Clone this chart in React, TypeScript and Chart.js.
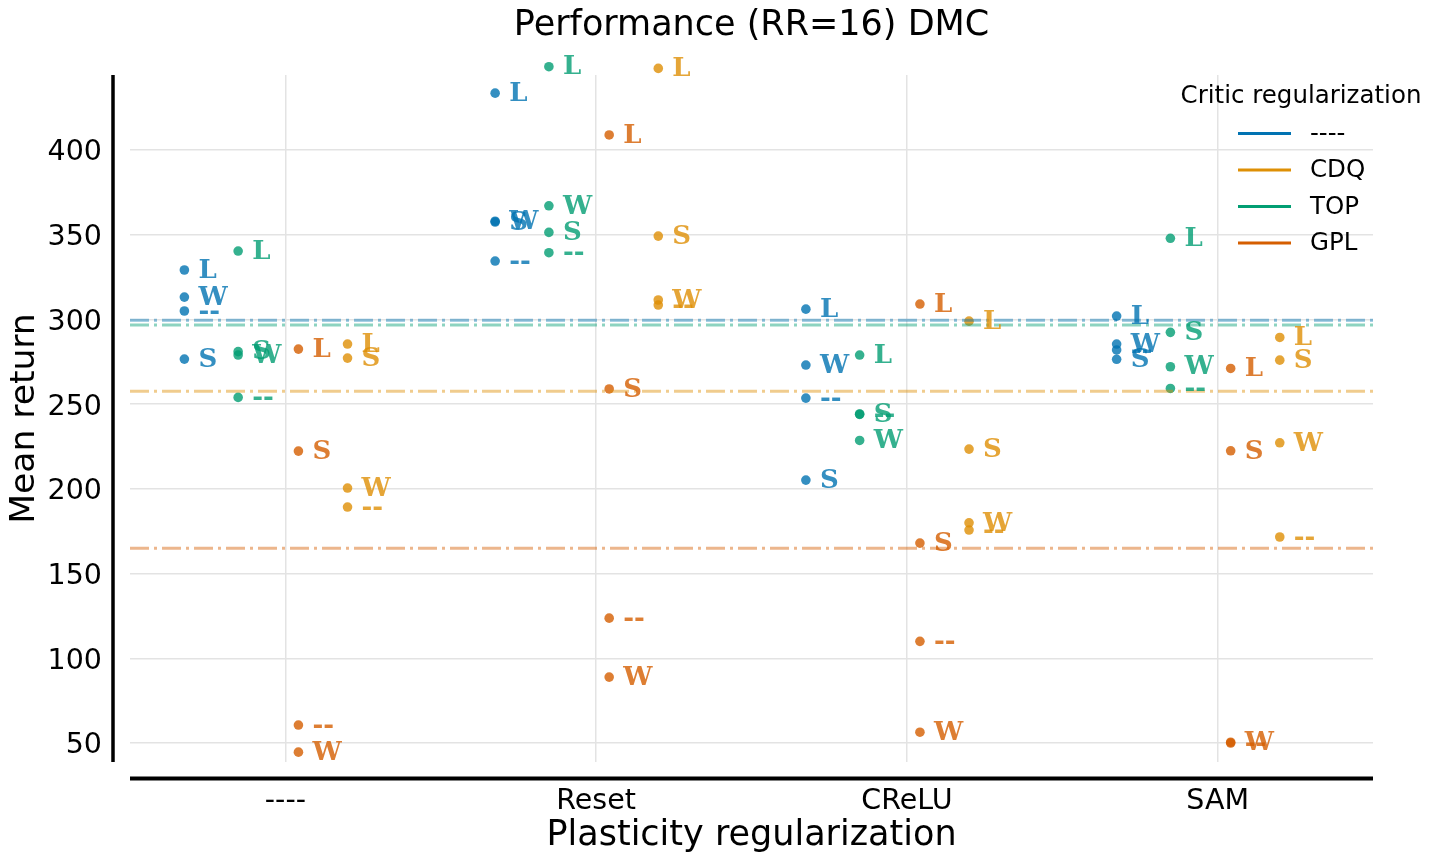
import { useEffect, useRef } from "react"
import { Chart, registerables } from "chart.js"

Chart.register(...registerables)

// plasticity regularization groups on the x axis
const plasticity = ["----", "Reset", "CReLU", "SAM"]
// critic regularization series
const critics = ["----", "CDQ", "TOP", "GPL"]
const criticColors = ["1, 115, 178", "222, 143, 5", "2, 158, 115", "213, 94, 0"]
// horizontal shift of each critic inside a group
const dodge = [-0.325, 0.2, -0.152, 0.042]
// text drawn next to every point
const variants = ["--", "S", "W", "L"]

// rows: plasticity group, columns: variants (--, S, W, L)
const noCritic = [
  [305, 276.6, 313.2, 329.2],
  [334.5, 357.5, 358, 433.6],
  [253.6, 205.2, 273.1, 306.1],
  [282, 276.5, 285.5, 302],
]
const cdq = [
  [189.3, 277.2, 200.5, 285.5],
  [308.5, 349.2, 311.5, 448.2],
  [175.7, 223.5, 180, 299],
  [171.6, 276, 227.2, 289.4],
]
const topReg = [
  [254, 281, 279, 340.4],
  [339.4, 351.4, 367.1, 449.2],
  [244, 244.2, 228.6, 279],
  [259.3, 292.4, 272.1, 347.9],
]
const gpl = [
  [60.6, 222.3, 44.6, 282.5],
  [123.7, 259, 88.9, 408.9],
  [110, 168, 56.4, 309.1],
  [50, 222.5, 50.5, 271.1],
]
const seriesValues = [noCritic, cdq, topReg, gpl]

// reference level per critic (dash-dot lines)
const criticMeans = [299.6, 257.7, 296.7, 165.0]

const yTicks = [50, 100, 150, 200, 250, 300, 350, 400]
const yMin = 38.8
const yMax = 444.3

const sansFont = "'DejaVu Sans', sans-serif"
const dotRadius = 4.8

const pointLabels = {
  id: "pointLabels",
  afterDatasetsDraw(chart: any) {
    const ctx = chart.ctx
    const area = chart.chartArea
    ctx.save()
    ctx.font = "bold 26px 'DejaVu Serif', serif"
    ctx.textAlign = "left"
    ctx.textBaseline = "middle"
    chart.data.datasets.forEach((ds: any, i: number) => {
      if (ds.type === "line") return
      const meta = chart.getDatasetMeta(i)
      ctx.fillStyle = `rgba(${ds.rgb}, 0.8)`
      meta.data.forEach((el: any, j: number) => {
        // chart.js skips points beyond the area; matplotlib drew them unclipped
        const outside =
          el.y < area.top - dotRadius ||
          el.y > area.bottom + dotRadius ||
          el.x < area.left - dotRadius ||
          el.x > area.right + dotRadius
        if (outside) {
          ctx.beginPath()
          ctx.arc(el.x, el.y, dotRadius, 0, Math.PI * 2)
          ctx.fill()
        }
        ctx.fillText(ds.data[j].tag, el.x + 14, el.y + 1)
      })
    })
    ctx.restore()
  },
}

const spinesAndLegend = {
  id: "spinesAndLegend",
  afterDraw(chart: any) {
    const ctx = chart.ctx
    const { left, right, top, bottom } = chart.chartArea
    ctx.save()
    ctx.strokeStyle = "#000"
    ctx.lineWidth = 3.5
    ctx.beginPath()
    ctx.moveTo(left - 17, top)
    ctx.lineTo(left - 17, bottom)
    ctx.stroke()
    ctx.lineWidth = 4
    ctx.beginPath()
    ctx.moveTo(left, bottom + 16.5)
    ctx.lineTo(right, bottom + 16.5)
    ctx.stroke()

    // legend
    ctx.font = `24.5px ${sansFont}`
    ctx.fillStyle = "#000"
    ctx.textAlign = "center"
    ctx.textBaseline = "middle"
    ctx.fillText("Critic regularization", 1301, 97)
    ctx.textAlign = "left"
    critics.forEach((name, i) => {
      const y = 133.5 + i * 36.5
      ctx.strokeStyle = `rgb(${criticColors[i]})`
      ctx.lineWidth = 3
      ctx.beginPath()
      ctx.moveTo(1238, y)
      ctx.lineTo(1291, y)
      ctx.stroke()
      ctx.fillText(name, 1310, y + 1)
    })
    ctx.restore()
  },
}

export default function App() {
  const canvasRef = useRef<HTMLCanvasElement>(null)
  const chartRef = useRef<Chart | null>(null)

  useEffect(() => {
    if (!canvasRef.current) return
    if (chartRef.current) chartRef.current.destroy()

    const lineSets = criticMeans.map((m, ci) => ({
      type: "line" as const,
      label: critics[ci] + " mean",
      data: [
        { x: -0.5, y: m },
        { x: 3.5, y: m },
      ],
      borderColor: `rgba(${criticColors[ci]}, 0.45)`,
      borderWidth: 3,
      borderDash: [19, 5, 3, 5],
      pointRadius: 0,
      fill: false,
    }))

    const pointSets = seriesValues.map((rows, ci) => {
      const data: any[] = []
      rows.forEach((row, pi) => {
        row.forEach((v, vi) => {
          data.push({ x: pi + dodge[ci], y: v, tag: variants[vi] })
        })
      })
      return {
        type: "scatter" as const,
        label: critics[ci],
        rgb: criticColors[ci],
        data,
        backgroundColor: `rgba(${criticColors[ci]}, 0.8)`,
        borderWidth: 0,
        pointRadius: dotRadius,
        clip: false,
      }
    })

    chartRef.current = new Chart(canvasRef.current, {
      type: "scatter",
      data: { datasets: [...lineSets, ...pointSets] as any },
      options: {
        responsive: false,
        animation: false,
        layout: { padding: { left: 0, right: 67, top: 0, bottom: 0 } },
        plugins: {
          legend: { display: false },
          tooltip: { enabled: false },
          title: {
            display: true,
            fullSize: false,
            text: "Performance (RR=16) DMC",
            color: "#000",
            font: { family: sansFont, size: 35, weight: "normal" },
            padding: { top: 4.6, bottom: 28.4 },
          },
        },
        scales: {
          x: {
            type: "linear",
            min: -0.5,
            max: 3.5,
            afterBuildTicks: (s: any) => {
              s.ticks = plasticity.map((_, i) => ({ value: i }))
            },
            afterFit: (s: any) => {
              s.height = 102
            },
            ticks: {
              callback: (v: any) => plasticity[v] ?? "",
              color: "#000",
              font: { family: sansFont, size: 28.5 },
              padding: 22,
              maxRotation: 0,
            },
            grid: { color: "#e3e3e3", lineWidth: 1.5, drawTicks: false },
            border: { display: false },
            title: {
              display: true,
              text: "Plasticity regularization",
              color: "#000",
              font: { family: sansFont, size: 35 },
              padding: { top: 7.5, bottom: 7.5 },
            },
          },
          y: {
            type: "linear",
            min: yMin,
            max: yMax,
            afterBuildTicks: (s: any) => {
              s.ticks = yTicks.map((v) => ({ value: v }))
            },
            afterFit: (s: any) => {
              s.width = 130
            },
            ticks: {
              color: "#000",
              font: { family: sansFont, size: 28.5 },
              padding: 28,
              labelOffset: 3,
            },
            grid: { color: "#e3e3e3", lineWidth: 1.5, drawTicks: false },
            border: { display: false },
            title: {
              display: true,
              text: "Mean return",
              color: "#000",
              font: { family: sansFont, size: 34.5 },
              padding: { top: 4.5, bottom: 4.5 },
            },
          },
        },
      },
      plugins: [pointLabels, spinesAndLegend],
    })

    return () => {
      if (chartRef.current) {
        chartRef.current.destroy()
        chartRef.current = null
      }
    }
  }, [])

  return (
    <div style={{ position: "absolute", left: 0, top: 0, width: 1440, height: 864, background: "#fff" }}>
      <canvas ref={canvasRef} width={1440} height={864}></canvas>
    </div>
  )
}
